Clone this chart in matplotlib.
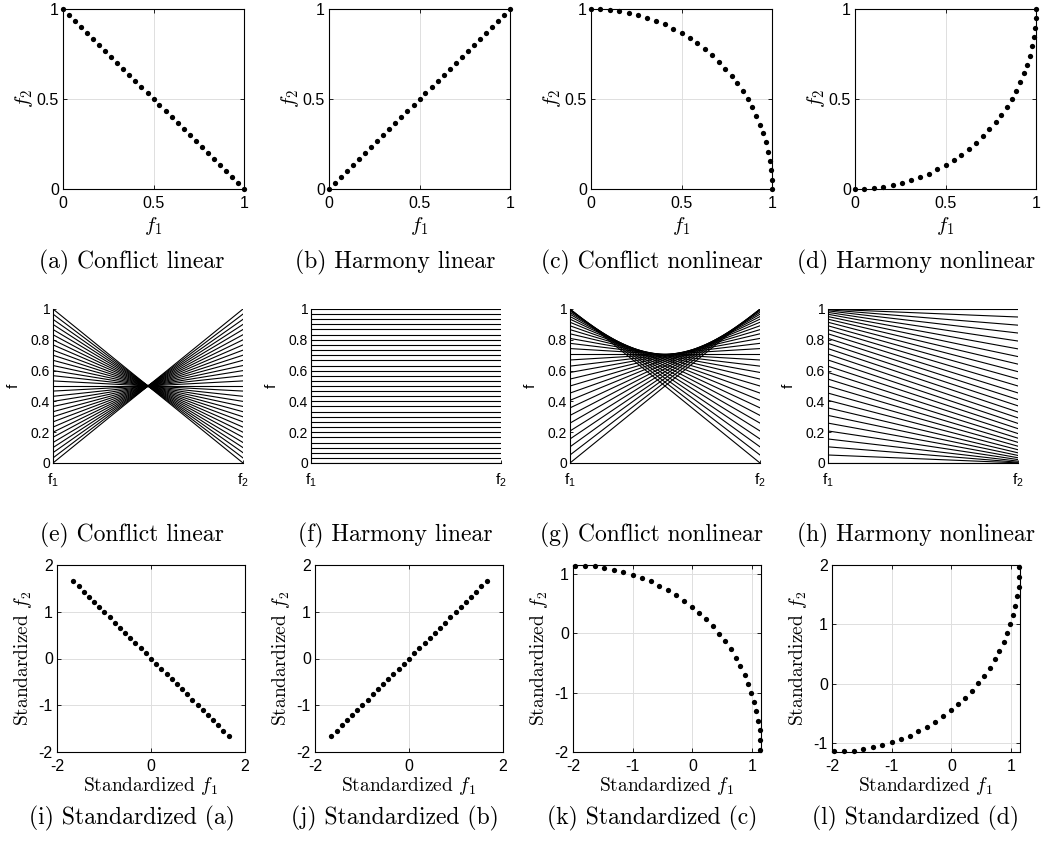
import numpy as np
import matplotlib
matplotlib.use("Agg")
import matplotlib.pyplot as plt

plt.rcParams['font.family'] = ['Liberation Sans', 'DejaVu Sans']
plt.rcParams['mathtext.fontset'] = 'cm'
plt.rcParams['axes.unicode_minus'] = False

# --- data (31 points per front) ---
lin_up = [0.0, 0.033, 0.067, 0.1, 0.133, 0.167, 0.2, 0.233, 0.267, 0.3, 0.333,
          0.367, 0.4, 0.433, 0.467, 0.5, 0.533, 0.567, 0.6, 0.633, 0.667,
          0.7, 0.733, 0.767, 0.8, 0.833, 0.867, 0.9, 0.933, 0.967, 1.0]
lin_down = lin_up[::-1]

arc_f1 = [0.0, 0.052, 0.105, 0.156, 0.208, 0.259, 0.309, 0.358, 0.407, 0.454,
          0.5, 0.545, 0.588, 0.629, 0.669, 0.707, 0.743, 0.777, 0.809, 0.839,
          0.866, 0.891, 0.914, 0.934, 0.951, 0.966, 0.978, 0.988, 0.995, 0.999, 1.0]
arc_conflict_f2 = arc_f1[::-1]
arc_harmony_f2 = [0.0, 0.001, 0.005, 0.012, 0.022, 0.034, 0.049, 0.066, 0.086,
                  0.109, 0.134, 0.161, 0.191, 0.223, 0.257, 0.293, 0.331, 0.371,
                  0.412, 0.455, 0.5, 0.546, 0.593, 0.642, 0.691, 0.741, 0.792,
                  0.844, 0.895, 0.948, 1.0]

fronts = [
    ("Conflict linear", lin_up, lin_down),
    ("Harmony linear", lin_up, lin_up),
    ("Conflict nonlinear", arc_f1, arc_conflict_f2),
    ("Harmony nonlinear", arc_f1, arc_harmony_f2),
]
letters = "abcdefghijkl"

unit_ticks = [0, 0.5, 1]
unit_labels = ["0", "0.5", "1"]
pcp_yticks = [0, 0.2, 0.4, 0.6, 0.8, 1]
pcp_ylabels = ["0", "0.2", "0.4", "0.6", "0.8", "1"]

# standardized axes: limits and ticks per panel
std_xlim = [(-2, 2), (-2, 2), (-2, 1.15), (-2, 1.15)]
std_ylim = [(-2, 2), (-2, 2), (-2, 1.15), (-1.15, 2)]
std_xticks = [[-2, 0, 2], [-2, 0, 2], [-2, -1, 0, 1], [-2, -1, 0, 1]]
std_yticks = [[-2, -1, 0, 1, 2], [-2, -1, 0, 1, 2], [-2, -1, 0, 1], [-1, 0, 1, 2]]


def standardize(v):
    v = np.asarray(v, dtype=float)
    return (v - v.mean()) / v.std(ddof=1)


W, H = 1046, 844
fig = plt.figure(figsize=(W / 100, H / 100), dpi=100)


def add_axes_px(left, top, width, height):
    return fig.add_axes([left / W, 1 - (top + height) / H, width / W, height / H])


def box_style(ax, size):
    ax.tick_params(direction='in', length=3, width=0.6, labelsize=size,
                   top=True, right=True, pad=3)
    ax.tick_params(axis='x', pad=5)
    for s in ax.spines.values():
        s.set_linewidth(0.8)
    ax.grid(True, color='0.87', linewidth=0.7)
    ax.set_axisbelow(True)


cap_font = dict(family='cmr10', fontsize=17)
lab_font = dict(family='cmr10', fontsize=14)
dot_kw = dict(ls='none', marker='o', ms=3.8, mew=0, color='black', clip_on=False)

row1_left = [63, 329, 591, 855]
row2_left = [53, 311, 570, 828]
row3_left = [57, 315, 573, 832]
col_center = [132, 395, 652, 916]

for i, (name, f1, f2) in enumerate(fronts):
    # row 1: the front itself
    ax = add_axes_px(row1_left[i], 9, 181, 180)
    ax.plot(f1, f2, **dot_kw)
    ax.set_xlim(0, 1)
    ax.set_ylim(0, 1)
    ax.set_xticks(unit_ticks, unit_labels)
    ax.set_yticks(unit_ticks, unit_labels)
    box_style(ax, 11.5)
    ax.set_xlabel(r'$f_1$', fontsize=15, labelpad=3)
    ax.set_ylabel(r'$f_2$', fontsize=15, labelpad=1)
    fig.text(col_center[i] / W, 1 - 262 / H, f"({letters[i]}) {name}",
             ha='center', va='center', **cap_font)

    # row 2: parallel coordinates
    ax = add_axes_px(row2_left[i], 309, 190, 154)
    for a, b in zip(f1, f2):
        ax.plot([0, 1], [a, b], color='black', lw=0.8)
    ax.set_xlim(0, 1)
    ax.set_ylim(0, 1)
    ax.set_xticks([0, 1], [r'$\mathregular{f_1}$', r'$\mathregular{f_2}$'])
    ax.set_yticks(pcp_yticks, pcp_ylabels)
    ax.tick_params(direction='in', length=2.5, width=0.6, labelsize=10, pad=2)
    ax.tick_params(axis='x', labelsize=11, pad=6)
    ax.spines['top'].set_visible(False)
    ax.spines['right'].set_visible(False)
    for s in ('left', 'bottom'):
        ax.spines[s].set_linewidth(0.8)
    ax.set_ylabel('f', fontsize=11, labelpad=7)
    fig.text(col_center[i] / W, 1 - 535 / H, f"({letters[i + 4]}) {name}",
             ha='center', va='center', **cap_font)

    # row 3: standardized front
    ax = add_axes_px(row3_left[i], 565, 188, 187)
    ax.plot(standardize(f1), standardize(f2), **dot_kw)
    ax.set_xlim(*std_xlim[i])
    ax.set_ylim(*std_ylim[i])
    ax.set_xticks(std_xticks[i], [str(t) for t in std_xticks[i]])
    ax.set_yticks(std_yticks[i], [str(t) for t in std_yticks[i]])
    box_style(ax, 11.5)
    ax.set_xlabel(r'Standardized $f_1$', labelpad=1, **lab_font)
    ax.set_ylabel(r'Standardized $f_2$', labelpad=3, **lab_font)
    fig.text(col_center[i] / W, 1 - 818 / H,
             f"({letters[i + 8]}) Standardized ({letters[i]})",
             ha='center', va='center', **cap_font)

fig.savefig("out.png", dpi=100)
